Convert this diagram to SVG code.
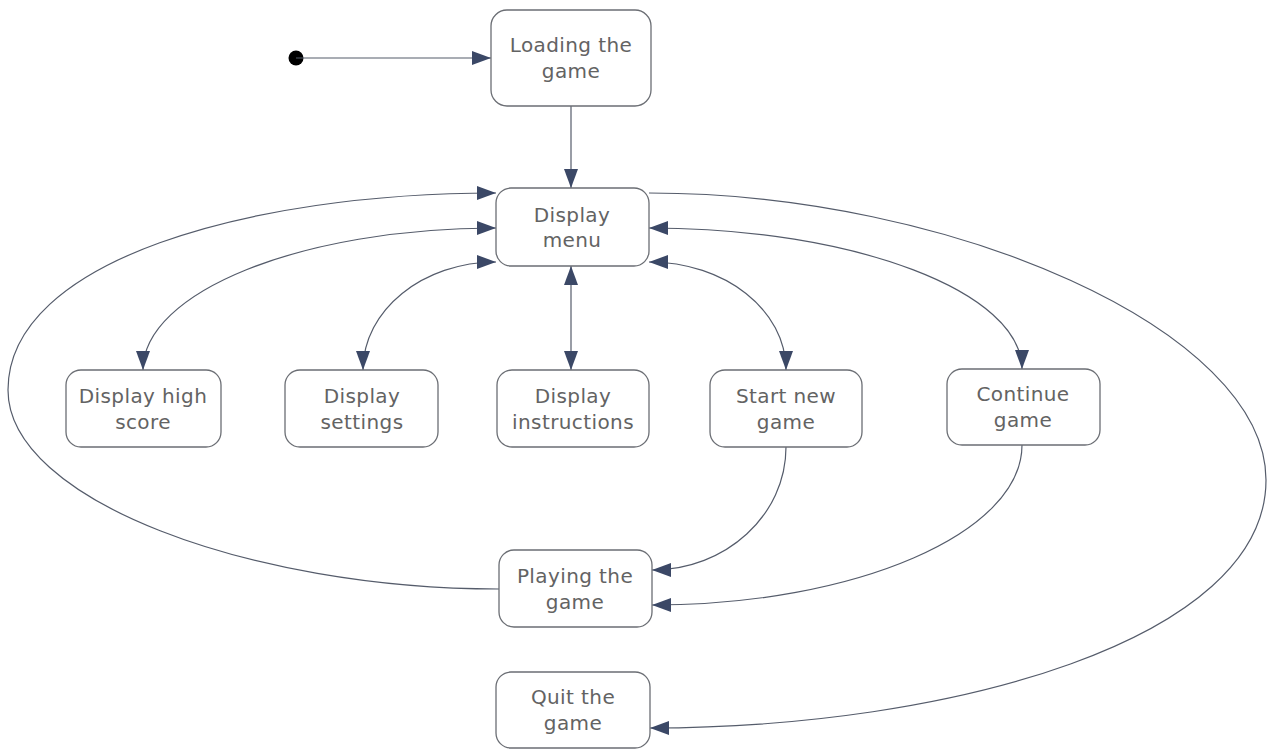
<svg xmlns="http://www.w3.org/2000/svg" width="1270" height="749" viewBox="0 0 1270 749">
<style>
.box{fill:#fff;stroke:#6b6e74;stroke-width:1.3}
.lbl{font-family:"DejaVu Sans",Verdana,sans-serif;font-size:20px;fill:#636363;text-anchor:middle;letter-spacing:0.4px}
.edge{fill:none;stroke:#555c6b;stroke-width:1.2}
</style>
<defs>
<marker id="ah" viewBox="0 0 19 14" refX="19" refY="7" markerWidth="19" markerHeight="14" markerUnits="userSpaceOnUse" orient="auto-start-reverse">
<path d="M0,0 L19,7 L0,14 z" fill="#3b4866"/>
</marker>
</defs>
<rect width="1270" height="749" fill="#fff"/>
<g id="connectors">
<circle cx="296" cy="58" r="7.5" fill="#000"/>
<path class="edge" d="M296,58 L491,58" marker-end="url(#ah)"/>
<path class="edge" d="M571,106 L571,188" marker-end="url(#ah)"/>
<path class="edge" d="M496,228 C301,228 143,292 143,370" marker-start="url(#ah)" marker-end="url(#ah)"/>
<path class="edge" d="M496,262 C423,262 363,310 363,370" marker-start="url(#ah)" marker-end="url(#ah)"/>
<path class="edge" d="M571,266 L571,370" marker-start="url(#ah)" marker-end="url(#ah)"/>
<path class="edge" d="M649,262 C725,262 786,310 786,370" marker-start="url(#ah)" marker-end="url(#ah)"/>
<path class="edge" d="M649,228 C855,228 1022,292 1022,369" marker-start="url(#ah)" marker-end="url(#ah)"/>
<path class="edge" d="M786,447 C786,515 726,570 652,570" marker-end="url(#ah)"/>
<path class="edge" d="M1022,445 C1022,533 856,605 652,605" marker-end="url(#ah)"/>
<path class="edge" d="M499,589 C250,589 8,500 8,390 C8,260 250,193 496,193" marker-end="url(#ah)"/>
<path class="edge" d="M649,193 C950,193 1266,330 1266,480 C1266,640 950,728 650,728" marker-end="url(#ah)"/>
</g>
<g id="loading"><rect class="box" x="491" y="10" width="160" height="96" rx="16"/><text class="lbl" x="571" y="52">Loading the</text><text class="lbl" x="571" y="78">game</text></g>
<g id="menu"><rect class="box" x="496" y="188" width="153" height="78" rx="15"/><text class="lbl" x="572" y="222">Display</text><text class="lbl" x="572" y="247">menu</text></g>
<g id="highscore"><rect class="box" x="66" y="370" width="155" height="77" rx="15"/><text class="lbl" x="143" y="403">Display high</text><text class="lbl" x="143" y="429">score</text></g>
<g id="settings"><rect class="box" x="285" y="370" width="153" height="77" rx="15"/><text class="lbl" x="362" y="403">Display</text><text class="lbl" x="362" y="429">settings</text></g>
<g id="instructions"><rect class="box" x="497" y="370" width="152" height="77" rx="15"/><text class="lbl" x="573" y="403">Display</text><text class="lbl" x="573" y="429">instructions</text></g>
<g id="startnew"><rect class="box" x="710" y="370" width="152" height="77" rx="15"/><text class="lbl" x="786" y="403">Start new</text><text class="lbl" x="786" y="429">game</text></g>
<g id="continue"><rect class="box" x="947" y="369" width="153" height="76" rx="15"/><text class="lbl" x="1023" y="401">Continue</text><text class="lbl" x="1023" y="427">game</text></g>
<g id="playing"><rect class="box" x="499" y="550" width="153" height="77" rx="15"/><text class="lbl" x="575" y="583">Playing the</text><text class="lbl" x="575" y="609">game</text></g>
<g id="quit"><rect class="box" x="496" y="672" width="154" height="76" rx="15"/><text class="lbl" x="573" y="704">Quit the</text><text class="lbl" x="573" y="730">game</text></g>
</svg>
